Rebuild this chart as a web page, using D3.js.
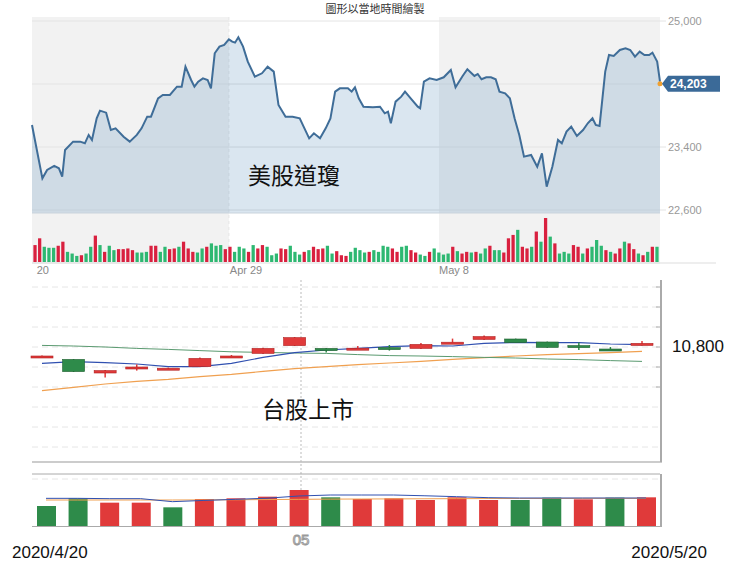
<!DOCTYPE html><html><head><meta charset="utf-8"><script src="https://cdn.jsdelivr.net/npm/d3@7"></script>
<style>body{margin:0;background:#fff}svg{display:block}</style></head><body><svg id="c" width="740" height="574"></svg><script>
// ---- US Dow (intraday, session progress index) ----
const dowT=[0,22,32,47,57,64,70,87,102,112,120,127,137,144,157,167,177,194,207,222,232,244,252,267,277,292,307,317,325,337,344,352,362,372,379,387,397,407,417,424,430,437,447,457,472,487,499,512,522,537,552,567,577,587,597,610,622,632,642,652,669,677,684,692,702,722,737,747,754,760,770,782,790,802,817,822,830,842,857,872,887,897,912,922,937,944,952,962,972,982,990,1002,1012,1022,1032,1042,1057,1070,1080,1090,1102,1114,1122,1132,1142,1154,1167,1177,1187,1194,1202,1214,1222,1232,1245,1257,1267,1277,1287,1297,1307,1314,1324,1330];
const dowV=[23680,23002,23108,23159,23129,23023,23362,23468,23468,23447,23553,23489,23764,23862,23836,23616,23637,23531,23468,23553,23637,23785,23785,24018,24061,24061,24166,24166,24420,24251,24166,24230,24272,24251,24145,24590,24674,24696,24767,24738,24725,24793,24674,24484,24293,24336,24420,24357,23934,23785,23785,23764,23637,23510,23574,23510,23637,23764,24103,24145,24145,24103,24158,24018,23912,23904,23912,23828,23849,23701,23976,24039,24103,24018,23912,23891,24230,24272,24251,24285,24378,24158,24302,24387,24302,24327,24260,24285,24285,24260,24103,24082,24018,23764,23553,23278,23299,23150,23320,22897,23150,23489,23447,23595,23658,23540,23616,23701,23764,23680,23667,24357,24568,24556,24632,24653,24632,24547,24611,24568,24568,24598,24484,24230];
const dowTicks=[25000,23400,22600];
const dowGrid=[25000,24200,23400,22600];
const dowLast=24203;
const dowXLabels=[["20",10],["Apr 29",419],["May 8",862]];
const dowBands=[[0,417],[862,1330]];
const dowVol=[50,70,45,42,42,48,60,30,25,18,20,25,45,78,50,30,48,35,38,38,40,35,28,28,30,48,48,30,45,38,40,45,60,40,30,28,40,45,55,48,50,38,45,30,45,40,30,50,40,50,45,20,25,40,38,48,30,22,30,35,45,38,40,48,25,32,20,18,30,42,35,28,30,35,30,48,45,40,30,45,48,35,28,22,18,30,40,28,22,25,45,32,25,30,28,30,25,40,48,35,35,28,70,80,95,45,40,45,90,60,130,75,55,25,30,25,50,45,25,40,45,65,48,35,30,25,40,60,55,38,25,20,30,45,45];
const dowVolCol="rrgggrrgggrggrgrggrrrrgggrrggrrgrrrggrgggrrgggrgrrgggrrgggrgrrrggrrrggggrggggrrggrrggrggggrgrrgrggrggrrrgrrgrgrgrgggrrgrgggrgrrgrrgrgr";
// ---- Taiwan TAIEX daily ----
const twDays=d3.range(20);
const twOpen =[10742,10728,10660,10688,10682,10692,10740,10758,10797,10783,10783,10787,10783,10813,10828,10830,10815,10797,10780,10798];
const twClose=[10745,10667,10672,10690,10684,10733,10745,10783,10837,10772,10784,10786,10803,10814,10842,10812,10788,10796,10779,10808];
const twHigh =[10748,10730,10675,10703,10687,10737,10750,10786,10840,10785,10795,10800,10810,10832,10847,10832,10817,10812,10790,10820];
const twLow  =[10738,10665,10638,10672,10678,10690,10735,10755,10795,10762,10780,10772,10780,10812,10825,10810,10786,10775,10778,10797];
const ma5 =[10708,10717,10712,10705,10692,10692,10708,10738,10762,10775,10783,10792,10797,10795,10808,10813,10812,10812,10805,10802];
const ma20=[10798,10795,10790,10783,10778,10772,10766,10763,10760,10758,10752,10747,10745,10742,10738,10735,10730,10727,10722,10718];
const ma60=[10572,10588,10605,10618,10628,10642,10653,10668,10682,10692,10702,10710,10718,10728,10737,10745,10752,10757,10762,10768];
const twVol=[1800,2490,2100,2100,1680,2430,2490,2640,3240,2580,2430,2490,2340,2580,2340,2340,2550,2400,2550,2580];
const twVolUp=[0,0,1,1,0,1,1,1,1,0,1,1,1,1,1,0,0,1,0,1];
const twVolMA5=[2490,2490,2460,2460,2190,2300,2400,2500,2700,2790,2790,2790,2720,2640,2550,2520,2520,2520,2520,2520];
const twVolMA20=[2340,2340,2340,2340,2340,2350,2360,2380,2400,2420,2430,2440,2450,2460,2470,2480,2480,2490,2490,2490];

const svg=d3.select("#c");
const L=32,R=660;
// ===== top chart =====
const xT=d3.scaleLinear().domain([0,1330]).range([L,R]);
const yT=d3.scaleLinear().domain([22600,25000]).range([210,21]);
svg.append("rect").attr("x",L).attr("y",17).attr("width",R-L).attr("height",247).attr("fill","#fff");
dowBands.forEach(b=>svg.append("rect").attr("x",xT(b[0])).attr("y",17).attr("width",xT(b[1])-xT(b[0])).attr("height",247).attr("fill","#f2f2f2"));
svg.append("line").attr("x1",xT(417)).attr("x2",xT(417)).attr("y1",17).attr("y2",262).attr("stroke","#e6e6e6").attr("stroke-dasharray","3,3");
dowGrid.forEach(v=>svg.append("line").attr("x1",L).attr("x2",R+6).attr("y1",yT(v)).attr("y2",yT(v)).attr("stroke","#e4e4e4"));
dowTicks.forEach(v=>svg.append("text").attr("x",668).attr("y",yT(v)+4).attr("font-family","Arial, Liberation Sans").attr("font-size",11).attr("fill","#999").text(d3.format(",")(v)));
const pts=dowT.map((t,i)=>[t,dowV[i]]);
svg.append("path").datum(pts).attr("d",d3.area().x(d=>xT(d[0])).y0(213).y1(d=>yT(d[1]))).attr("fill","rgba(70,130,180,0.2)");
svg.append("line").attr("x1",L).attr("x2",R).attr("y1",213).attr("y2",213).attr("stroke","#c9d3dc");
svg.append("path").datum(pts).attr("d",d3.line().x(d=>xT(d[0])).y(d=>yT(d[1]))).attr("fill","none").attr("stroke","#3f6d98").attr("stroke-width",2);
svg.append("circle").attr("cx",xT(1330)).attr("cy",yT(dowLast)).attr("r",2.5).attr("fill","#f0a030");
const tg=svg.append("g").attr("transform",`translate(${R+2},${yT(dowLast)})`);
tg.append("path").attr("d","M0,0 L6,-8 L58,-8 L58,8 L6,8Z").attr("fill","#3b6a98");
tg.append("text").attr("x",8).attr("y",4.5).attr("font-family","Arial, Liberation Sans").attr("font-weight","bold").attr("font-size",12).attr("fill","#fff").text(d3.format(",")(dowLast));
const xVb=d3.scaleBand().domain(d3.range(dowVol.length)).range([L,R]).padding(0.3);
const yVb=d3.scaleLinear().domain([0,130]).range([262,218]);
svg.selectAll(".tv").data(dowVol).join("rect").attr("x",(d,i)=>xVb(i)).attr("width",xVb.bandwidth()).attr("y",d=>yVb(d)).attr("height",d=>262-yVb(d)).attr("fill",(d,i)=>dowVolCol[i]==="r"?"#d9203f":"#2eb872");
svg.append("line").attr("x1",L).attr("x2",716).attr("y1",263).attr("y2",263).attr("stroke","#ddd");
dowXLabels.forEach(([s,t])=>svg.append("text").attr("x",xT(t)).attr("y",274).attr("font-family","Arial, Liberation Sans").attr("font-size",11).attr("fill","#888").text(s));
svg.append("text").attr("x",375).attr("y",13).attr("text-anchor","middle").attr("font-family","Noto Sans CJK TC").attr("font-size",11).attr("fill","#333").text("圖形以當地時間繪製");
svg.append("text").attr("x",248).attr("y",184).attr("font-family","Noto Sans CJK TC").attr("font-size",23).attr("fill","#111").text("美股道瓊");
// ===== Taiwan candles =====
const xC=d3.scalePoint().domain(twDays).range([42,642]);
const yC=d3.scaleLinear().domain([10700,10800]).range([365,345]);
for(let y=287;y<=450;y+=20) svg.append("line").attr("x1",L).attr("x2",R).attr("y1",y).attr("y2",y).attr("stroke","#e6e6e6").attr("stroke-dasharray","6,4");
svg.append("line").attr("x1",301).attr("x2",301).attr("y1",280).attr("y2",528).attr("stroke","#ddd").attr("stroke-dasharray","2,2").attr("stroke-width",2);
svg.append("line").attr("x1",L).attr("x2",662).attr("y1",462).attr("y2",462).attr("stroke","#bbb").attr("stroke-width",1.5);
svg.append("line").attr("x1",661).attr("x2",661).attr("y1",280).attr("y2",462).attr("stroke","#aaa").attr("stroke-width",2);
for(let y=287;y<=390;y+=20) svg.append("line").attr("x1",656).attr("x2",661).attr("y1",y).attr("y2",y).attr("stroke","#aaa");
const ln=d3.line().x((d,i)=>xC(i)).y(d=>yC(d));
svg.append("path").datum(ma60).attr("d",ln).attr("fill","none").attr("stroke","#f0a050").attr("stroke-width",1.2);
svg.append("path").datum(ma20).attr("d",ln).attr("fill","none").attr("stroke","#5a9a70").attr("stroke-width",1);
svg.append("path").datum(ma5).attr("d",ln).attr("fill","none").attr("stroke","#3050b0").attr("stroke-width",1.2);
twDays.forEach(i=>{const up=twClose[i]>=twOpen[i],col=up?"#e03a3a":"#2e8b4a";
 svg.append("line").attr("x1",xC(i)).attr("x2",xC(i)).attr("y1",yC(twHigh[i])).attr("y2",yC(twLow[i])).attr("stroke",col).attr("stroke-width",1.5);
 const y0=yC(Math.max(twOpen[i],twClose[i])),h=Math.max(2,Math.abs(yC(twOpen[i])-yC(twClose[i])));
 svg.append("rect").attr("x",xC(i)-11).attr("width",22).attr("y",y0).attr("height",h).attr("fill",col).attr("stroke",up?"#b02020":"#206030").attr("stroke-width",0.6);});
svg.append("text").attr("x",672).attr("y",352).attr("font-family","Liberation Sans Narrow, Liberation Sans").attr("font-size",17).attr("fill","#111").text("10,800");
svg.append("text").attr("x",262).attr("y",418).attr("font-family","Noto Sans CJK TC").attr("font-size",23).attr("fill","#111").text("台股上市");
// ===== Taiwan volume =====
const yTV=d3.scaleLinear().domain([0,4680]).range([526,474]);
svg.append("line").attr("x1",L).attr("x2",R).attr("y1",474).attr("y2",474).attr("stroke","#aaa");
svg.append("line").attr("x1",L).attr("x2",R).attr("y1",479).attr("y2",479).attr("stroke","#e6e6e6").attr("stroke-dasharray","6,4");
svg.append("line").attr("x1",661).attr("x2",661).attr("y1",474).attr("y2",527).attr("stroke","#aaa").attr("stroke-width",2);
svg.append("line").attr("x1",L).attr("x2",662).attr("y1",526.5).attr("y2",526.5).attr("stroke","#aaa");
twDays.forEach(i=>svg.append("rect").attr("x",xC(i)-9+4).attr("width",19).attr("y",yTV(twVol[i])).attr("height",526-yTV(twVol[i])).attr("fill",twVolUp[i]?"#e03a3a":"#2e8b4a"));
const lnV=d3.line().x((d,i)=>xC(i)+4).y(d=>yTV(d));
svg.append("path").datum(twVolMA20).attr("d",lnV).attr("fill","none").attr("stroke","#f0a050");
svg.append("path").datum(twVolMA5).attr("d",lnV).attr("fill","none").attr("stroke","#3050b0");
svg.append("text").attr("x",301).attr("y",545).attr("text-anchor","middle").attr("font-family","Arial, Liberation Sans").attr("font-size",15).attr("fill","#fff").attr("stroke","#999").attr("stroke-width",1).text("05");
svg.append("text").attr("x",12).attr("y",558).attr("font-family","Liberation Sans Narrow, Liberation Sans").attr("font-size",17).attr("fill","#111").text("2020/4/20");
svg.append("text").attr("x",707).attr("y",558).attr("text-anchor","end").attr("font-family","Liberation Sans Narrow, Liberation Sans").attr("font-size",17).attr("fill","#111").text("2020/5/20");
</script></body></html>
